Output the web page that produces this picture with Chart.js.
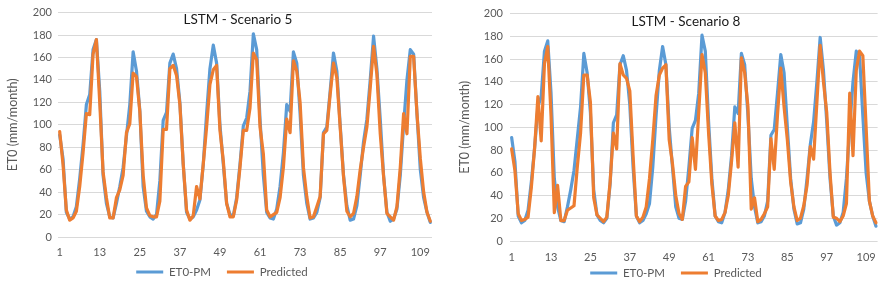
<!DOCTYPE html>
<html><head><meta charset="utf-8">
<script src="https://cdn.jsdelivr.net/npm/chart.js@4.4.1/dist/chart.umd.min.js"></script>
<style>
html,body{margin:0;padding:0;background:#fff;}
#wrap{position:relative;width:886px;height:285px;background:#fff;}
canvas{position:absolute;top:0;}
</style></head><body>
<div id="wrap">
<canvas id="c5" width="443" height="285" style="left:0"></canvas>
<canvas id="c8" width="443" height="285" style="left:443px"></canvas>
</div>
<script>
// ---- data ----
const ET0_PM = [91,70,22,16,18,27,52,82,118,127,
 167,176,130,55,30,18,17,30,45,62,
 90,118,165,148,113,45,23,18,16,20,
 50,104,111,155,163,150,120,65,22,16,
 18,24,33,65,110,150,171,155,100,65,
 30,20,19,35,65,99,106,130,181,167,
 105,55,22,17,16,25,45,75,118,112,
 165,155,110,55,30,16,17,22,35,93,
 98,130,164,148,100,55,28,15,16,28,
 55,85,105,140,179,150,105,55,22,14,
 16,25,55,100,140,167,163,110,60,35,
 22,13];
const PRED_S5 = [94,65,24,15,17,23,45,75,110,109,
 163,176,120,58,35,17,17,35,42,55,
 93,101,146,143,112,55,26,19,18,18,
 32,96,96,150,153,144,118,65,24,15,
 19,45,34,65,98,136,149,153,95,68,
 30,18,18,33,62,95,95,115,164,158,
 98,74,24,18,20,22,35,62,105,93,
 157,148,120,62,36,17,18,27,36,92,
 95,127,155,142,98,54,23,18,21,36,
 60,80,98,133,170,145,92,54,21,18,
 15,27,62,110,92,161,161,110,70,40,
 22,14];
const PRED_S8 = [81,62,24,18,19,21,47,82,127,88,
 156,171,110,25,49,18,18,27,29,31,
 65,95,146,146,122,38,23,20,17,21,
 52,95,81,156,146,143,132,75,22,17,
 21,30,55,89,128,146,152,155,89,68,
 40,24,19,48,52,91,63,113,164,148,
 95,50,22,18,19,25,40,70,104,65,
 161,148,118,28,38,17,19,24,30,90,
 63,111,152,118,89,52,30,18,20,31,
 49,83,72,122,172,140,113,60,21,20,
 17,22,33,130,75,150,167,163,100,35,
 22,16];
const MONTHS = ET0_PM.map((_, i) => String(i + 1));
const X_TICK_LABELS = ['1','13','25','37','49','61','73','85','97','109'];
const Y_TICKS = [0,20,40,60,80,100,120,140,160,180,200];
const SERIES_NAMES = ['ET0-PM', 'Predicted'];
const TITLES = ['LSTM - Scenario 5', 'LSTM - Scenario 8'];
const Y_TITLE = 'ET0 (mm/month)';

const FONT = 'Lato, "Liberation Sans", sans-serif';
const BLUE = '#5B9BD5', ORANGE = '#ED7D31', TXT = '#595959';

const overlay = {
  id: 'overlay',
  afterLayout(chart) {
    const s = chart.config.options.plugins.overlay;
    const lg = chart.legend;
    if (lg) {
      const h = lg.bottom - lg.top;
      const dx = s.legendCX - (lg.left + lg.right) / 2;
      lg.left += dx; lg.right += dx;
      const top = s.legendCY - lg.options.labels.padding - lg.options.labels.font.size / 2;
      lg.top = top; lg.bottom = top + h;
    }
  },
  afterDraw(chart) {
    const s = chart.config.options.plugins.overlay;
    const ctx = chart.ctx;
    ctx.save();
    ctx.font = '13.5px ' + FONT;
    ctx.fillStyle = '#1a1a1a';
    ctx.textAlign = 'center';
    ctx.textBaseline = 'middle';
    ctx.fillText(s.title, s.titleX, s.titleY);
    ctx.restore();
  }
};

function makeChart(id, pred, title, spec) {
  const cfg = {
    type: 'line',
    data: {
      labels: MONTHS,
      datasets: [
        { label: SERIES_NAMES[0], data: ET0_PM, borderColor: BLUE, backgroundColor: BLUE,
          borderWidth: 3.2, pointRadius: 0, tension: 0, order: 2, borderJoinStyle: 'round', borderCapStyle: 'round' },
        { label: SERIES_NAMES[1], data: pred, borderColor: ORANGE, backgroundColor: ORANGE,
          borderWidth: 3.2, pointRadius: 0, tension: 0, order: 1, borderJoinStyle: 'round', borderCapStyle: 'round' }
      ]
    },
    options: {
      responsive: false, animation: false, devicePixelRatio: 1,
      layout: { padding: { left: 0, right: 443 - spec.area.right, top: spec.area.top, bottom: 0 } },
      plugins: {
        tooltip: { enabled: false },
        title: { display: false },
        legend: {
          position: 'bottom',
          labels: {
            boxWidth: 27, boxHeight: 3, padding: 16, color: TXT,
            font: { family: FONT, size: 11.5 },
            generateLabels(chart) {
              return chart.data.datasets.map((ds, i) => ({
                text: ds.label, fillStyle: ds.borderColor, strokeStyle: ds.borderColor,
                lineWidth: 0, hidden: false, datasetIndex: i, fontColor: TXT
              }));
            }
          }
        },
        overlay: { title: title, titleX: spec.titleX, titleY: spec.titleY,
                   legendCX: spec.legendCX, legendCY: spec.legendCY }
      },
      scales: {
        x: {
          type: 'category', offset: true,
          grid: { display: false, drawTicks: false },
          border: { display: false },
          ticks: {
            autoSkip: false, maxRotation: 0, minRotation: 0, padding: spec.xTickPad,
            color: TXT, font: { family: FONT, size: 11 },
            callback(v, i) { const l = MONTHS[i]; return X_TICK_LABELS.includes(l) ? l : ''; }
          }
        },
        y: {
          min: 0, max: 200,
          afterFit(scale) { scale.width = spec.area.left; },
          afterBuildTicks(scale) { scale.ticks = Y_TICKS.map(v => ({ value: v })); },
          grid: { color: '#d9d9d9', lineWidth: 1, drawTicks: false },
          border: { display: false },
          ticks: { padding: spec.yTickPad, color: TXT, font: { family: FONT, size: 11 } },
          title: { display: true, text: Y_TITLE, color: TXT, font: { family: FONT, size: 12.5 },
                   padding: { top: spec.yTitlePad, bottom: 0 } }
        }
      }
    },
    plugins: [overlay]
  };
  const chart = new Chart(document.getElementById(id), cfg);
  for (let k = 0; k < 3; k++) {
    const ca = chart.chartArea;
    const p = cfg.options.layout.padding;
    cfg.options.layout.padding = {
      left: p.left + (spec.area.left - ca.left),
      right: p.right + (ca.right - spec.area.right),
      top: p.top + (spec.area.top - ca.top),
      bottom: p.bottom + (ca.bottom - spec.area.bottom)
    };
    chart.update('none');
  }
  return chart;
}

makeChart('c5', PRED_S5, TITLES[0], {
  area: { left: 58, top: 11, right: 432, bottom: 237 },
  titleX: 238, titleY: 20, yTitlePad: 5, yTickPad: 6, xTickPad: 9,
  legendCX: 222, legendCY: 272
});
makeChart('c8', PRED_S8, TITLES[1], {
  area: { left: 67, top: 12, right: 435, bottom: 241 },
  titleX: 243, titleY: 22, yTitlePad: 14, yTickPad: 7, xTickPad: 10,
  legendCX: 233, legendCY: 273
});
</script>
</body></html>
